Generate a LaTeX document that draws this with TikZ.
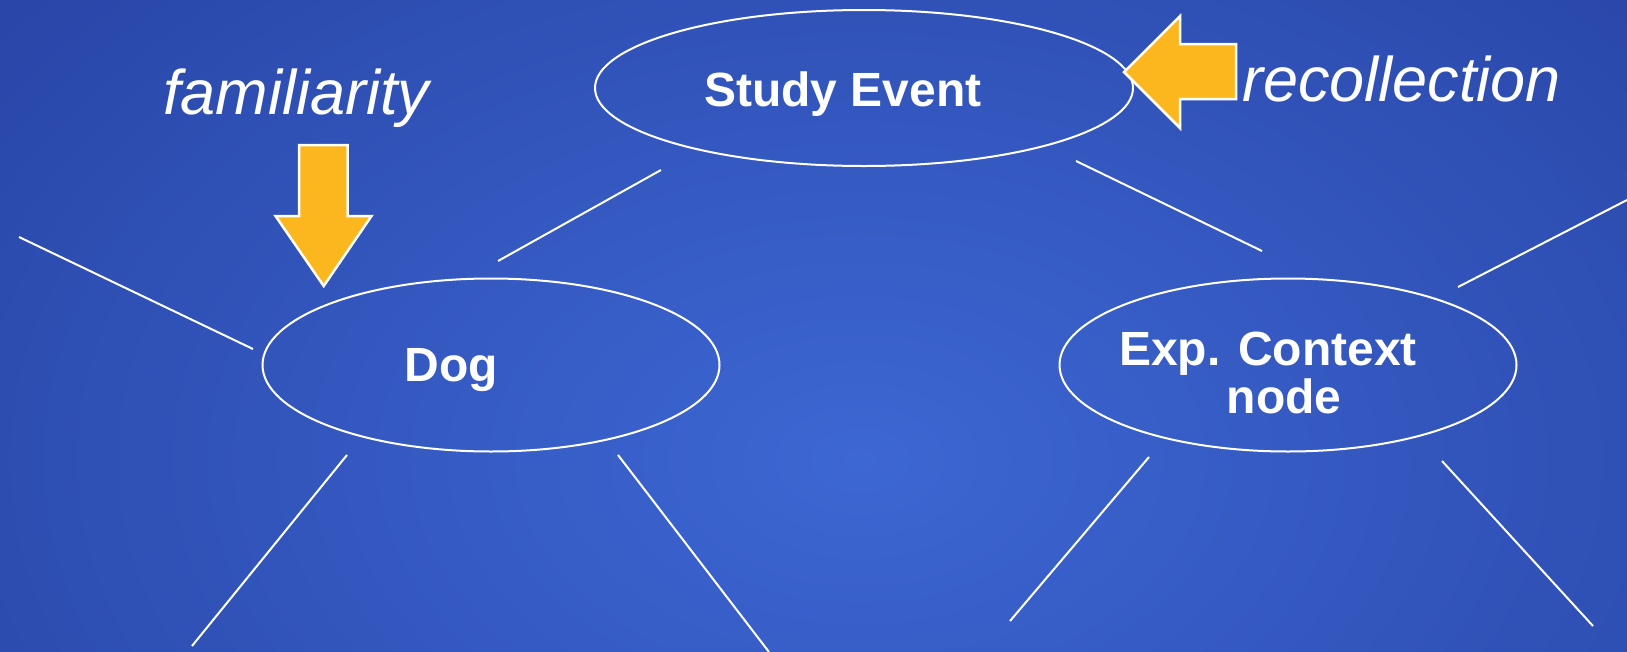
\documentclass[tikz,border=0pt]{standalone}
\usepackage{fontspec}
\setmainfont{Liberation Sans}
\usetikzlibrary{shapes.geometric}
\begin{document}
\begin{tikzpicture}[x=1pt,y=-1pt,
  bubble/.style={draw=white,line width=2pt,ellipse,inner sep=0pt},
  link/.style={draw=white,line width=2pt},
  cue/.style={fill=cueorange,draw=white,line width=2.5pt,line join=miter},
  concept/.style={text=white,inner sep=0pt,font=\fontsize{48}{48}\selectfont\bfseries},
  process/.style={text=white,inner sep=0pt,font=\fontsize{63}{70}\selectfont\itshape}]
\definecolor{cueorange}{HTML}{FDB71E}
\definecolor{bgin}{HTML}{3D67D3}
\definecolor{bgout}{HTML}{2946A8}
\useasboundingbox (0,0) rectangle (1627,651);
\begin{scope}
  \clip (0,0) rectangle (1627,651);
  \shade[inner color=bgin,outer color=bgout] (-240,-260) rectangle (1960,1180);
\end{scope}

% concept nodes
\node[bubble,minimum width=538pt,minimum height=156pt] (study) at (864,88) {};
\node[bubble,minimum width=457pt,minimum height=173pt] (dog) at (491,365) {};
\node[bubble,minimum width=457pt,minimum height=173pt] (ctx) at (1288,365) {};

\node[concept,anchor=base] (studyt) at (843,106) {Study Event};
\node[concept,anchor=base] (dogt) at (451,381) {Dog};
\node[concept,anchor=base] (ctxt1) at (1268,365) {Exp. Context};
\node[concept,anchor=base] (ctxt2) at (1284,413) {node};

% processes
\node[process,anchor=base west] (fam) at (163,114) {familiarity};
\node[process,anchor=base west] (rec) at (1242,101) {recollection};

% links to further nodes
\coordinate (l1a) at (661,170); \coordinate (l1b) at (498,261);
\coordinate (l2a) at (1076,161); \coordinate (l2b) at (1262,251);
\coordinate (l3a) at (19,237); \coordinate (l3b) at (253,349);
\coordinate (l4a) at (1627,200); \coordinate (l4b) at (1458,287);
\coordinate (l5a) at (347,455); \coordinate (l5b) at (192,646);
\coordinate (l6a) at (618,455); \coordinate (l6b) at (769,652);
\coordinate (l7a) at (1149,457); \coordinate (l7b) at (1010,621);
\coordinate (l8a) at (1442,461); \coordinate (l8b) at (1593,626);
\foreach \i in {1,...,8} \draw[link] (l\i a) -- (l\i b);

% block arrows
\draw[cue] (299,145) -- (347.5,145) -- (347.5,216) -- (371.5,216) -- (323.7,286) -- (275.5,216) -- (299,216) -- cycle;
\draw[cue] (1236,44) -- (1236,99) -- (1180,99) -- (1180,128) -- (1124,72) -- (1180,16) -- (1180,44) -- cycle;
\end{tikzpicture}
\end{document}
